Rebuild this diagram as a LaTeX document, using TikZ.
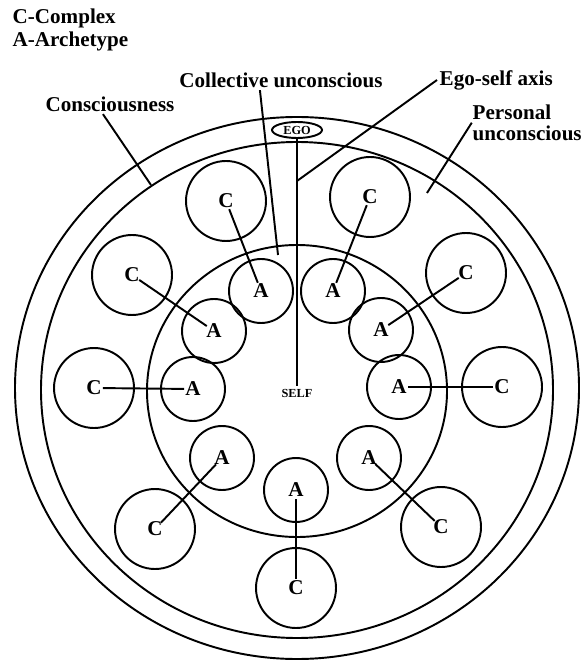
\documentclass[tikz,border=0pt]{standalone}
\usepackage{fontspec}
\setmainfont{Liberation Serif}
\usetikzlibrary{shapes.geometric}

\begin{document}
\begin{tikzpicture}[
x=0.02cm, y=-0.02cm,
line width=1.1pt,
comp/.style={
draw,
circle,
minimum size=1.6cm,
inner sep=0pt,
font=\fontsize{12}{14}\selectfont\bfseries
},
arch/.style={comp,minimum size=1.28cm},
link/.style={shorten <=5pt,shorten >=5pt},
lbl/.style={font=\fontsize{12}{13}\selectfont\bfseries,inner sep=1pt},
tiny/.style={font=\fontsize{7}{8}\selectfont\bfseries,inner sep=1pt}
]
\useasboundingbox (0,0) rectangle (583,661);

\draw (297,388) ellipse [x radius=282,y radius=271];
\draw (297,390) ellipse [x radius=256,y radius=248];
\draw (297,391) ellipse [x radius=150,y radius=146];

\node[lbl,anchor=north west,align=left] (key) at (10,6) {C-Complex\\A-Archetype};
\node[lbl] (coll) at (281,80) {Collective unconscious};
\node[lbl,anchor=west] (esa) at (437,80) {Ego-self axis};
\node[lbl] (con) at (110,104) {Consciousness};
\node[lbl,anchor=north west,align=left,font=\fontsize{12}{12}\selectfont\bfseries] (pers) at (470,102) {Personal\\unconscious};

\node[tiny,draw,ellipse,minimum width=1cm,minimum height=0.32cm,inner sep=0pt] (ego) at (297,130) {EGO};
\node[tiny] (self) at (297,393) {SELF};

\node[comp] (c1) at (226,201) {C};
\node[arch] (a1) at (261,291) {A};
\node[comp] (c2) at (132,275) {C};
\node[arch] (a2) at (214,331) {A};
\node[comp] (c3) at (94,388) {C};
\node[arch] (a3) at (193,389) {A};
\node[comp] (c4) at (370,197) {C};
\node[arch] (a4) at (333,291) {A};
\node[comp] (c5) at (466,273) {C};
\node[arch] (a5) at (381,330) {A};
\node[comp] (c6) at (502,387) {C};
\node[arch] (a6) at (399,387) {A};
\node[comp] (c7) at (155,529) {C};
\node[arch] (a7) at (222,458) {A};
\node[comp] (c8) at (296,588) {C};
\node[arch] (a8) at (296,490) {A};
\node[comp] (c9) at (441,527) {C};
\node[arch] (a9) at (369,458) {A};

\coordinate (conend) at (151,185);
\coordinate (collend) at (278,255);
\coordinate (axis) at (297,181);
\coordinate (persend) at (427,193);

% C to A links
\draw[link] (c1.center) -- (a1.center);
\draw[link] (c2.center) -- (a2.center);
\draw[link] (c3.center) -- (a3.center);
\draw[link] (c4.center) -- (a4.center);
\draw[link] (c5.center) -- (a5.center);
\draw[link] (c6.center) -- (a6.center);
\draw[link] (c7.center) -- (a7.center);
\draw[link] (c8.center) -- (a8.center);
\draw[link] (c9.center) -- (a9.center);

% leaders
\draw (ego.south) -- (self.north);
\draw ([xshift=-4pt]con.south) -- (conend);
\draw ([xshift=-12pt]coll.south) -- (collend);
\draw (esa.west) -- (axis);
\draw ([xshift=1pt]pers.west) -- (persend);

\end{tikzpicture}
\end{document}
